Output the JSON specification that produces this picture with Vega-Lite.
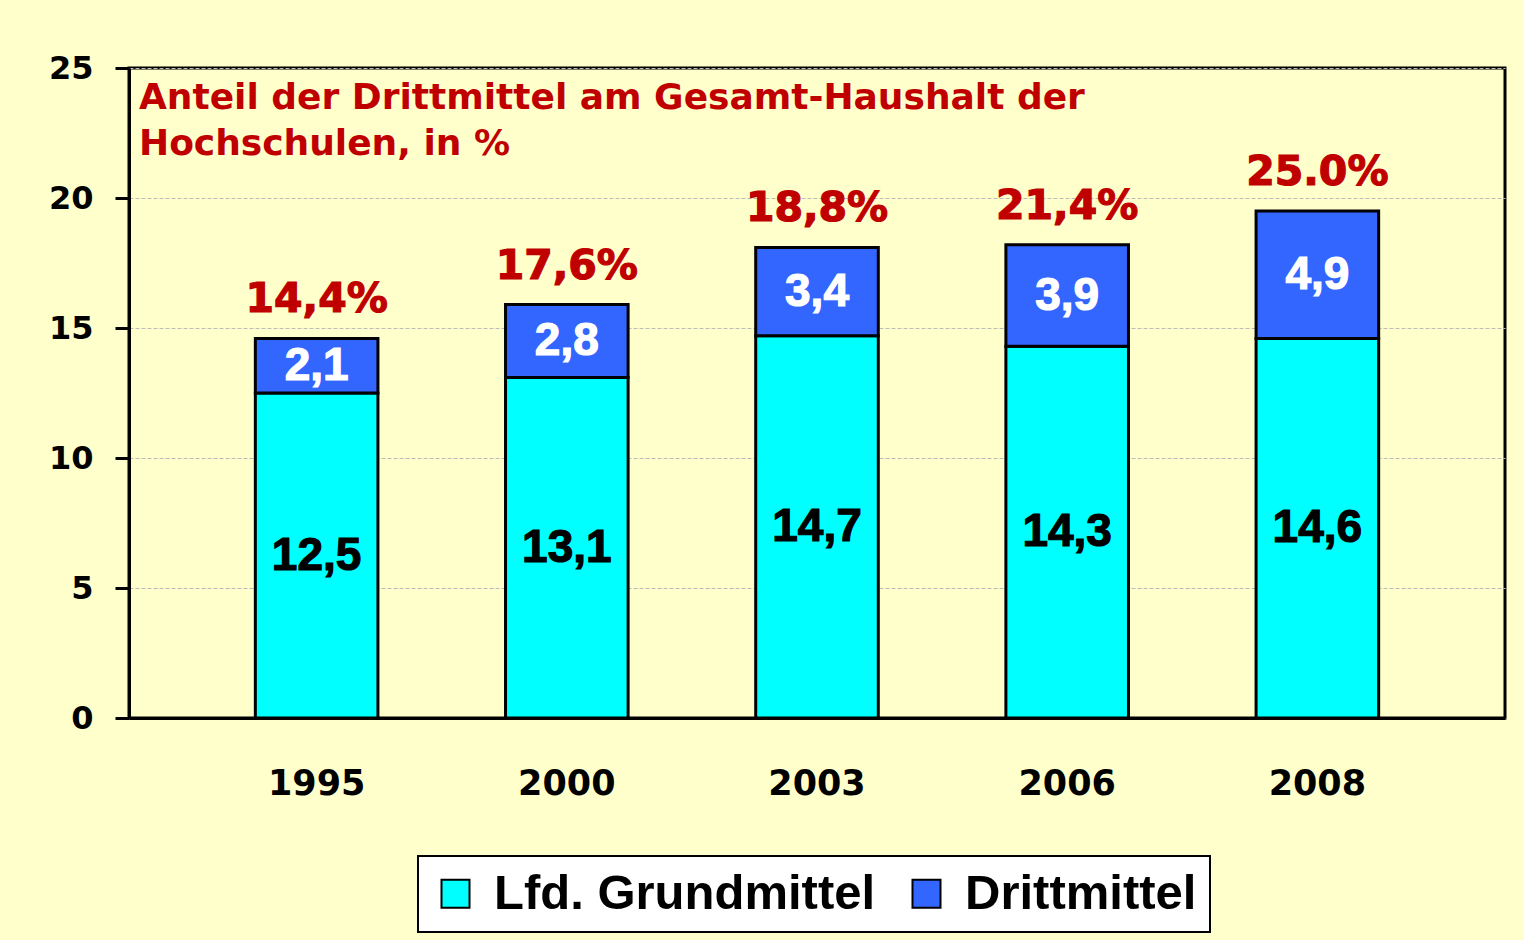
{
  "$schema": "https://vega.github.io/schema/vega-lite/v6.json",
  "width": 1376,
  "height": 650,
  "autosize": {"type": "none"},
  "padding": {"left": 129, "top": 68, "right": 19, "bottom": 222},
  "background": "#FFFFCC",
  "title": {
    "text": ["Anteil der Drittmittel am Gesamt-Haushalt der", "Hochschulen, in %"],
    "anchor": "start",
    "frame": "group",
    "orient": "top",
    "baseline": "top",
    "offset": -16,
    "dx": 10,
    "dy": 95,
    "color": "#C00000",
    "font": "DejaVu Sans",
    "fontSize": 36,
    "fontWeight": "bold",
    "lineHeight": 46
  },
  "data": {
    "values": [
      {"year": "1995", "series": "Lfd. Grundmittel", "value": 12.5, "label": "12,5", "pct": "14,4%"},
      {"year": "1995", "series": "Drittmittel", "value": 2.1, "label": "2,1", "pct": "14,4%"},
      {"year": "2000", "series": "Lfd. Grundmittel", "value": 13.1, "label": "13,1", "pct": "17,6%"},
      {"year": "2000", "series": "Drittmittel", "value": 2.8, "label": "2,8", "pct": "17,6%"},
      {"year": "2003", "series": "Lfd. Grundmittel", "value": 14.7, "label": "14,7", "pct": "18,8%"},
      {"year": "2003", "series": "Drittmittel", "value": 3.4, "label": "3,4", "pct": "18,8%"},
      {"year": "2006", "series": "Lfd. Grundmittel", "value": 14.3, "label": "14,3", "pct": "21,4%"},
      {"year": "2006", "series": "Drittmittel", "value": 3.9, "label": "3,9", "pct": "21,4%"},
      {"year": "2008", "series": "Lfd. Grundmittel", "value": 14.6, "label": "14,6", "pct": "25.0%"},
      {"year": "2008", "series": "Drittmittel", "value": 4.9, "label": "4,9", "pct": "25.0%"}
    ]
  },
  "encoding": {
    "x": {
      "field": "year",
      "type": "nominal",
      "scale": {"paddingInner": 0.51, "paddingOuter": 0.505},
      "axis": {
        "title": null,
        "labelAngle": 0,
        "ticks": false,
        "labelPadding": 48,
        "labelFont": "DejaVu Sans",
        "labelFontSize": 35,
        "labelFontWeight": "bold",
        "labelColor": "black",
        "domainColor": "black",
        "domainWidth": 3
      }
    }
  },
  "layer": [
    {
      "mark": {"type": "bar", "stroke": "black", "strokeWidth": 3},
      "encoding": {
        "y": {
          "field": "value",
          "type": "quantitative",
          "stack": "zero",
          "scale": {"domain": [0, 25], "nice": false},
          "axis": {
            "title": null,
            "values": [0, 5, 10, 15, 20, 25],
            "grid": true,
            "gridColor": "#BBBBBB",
            "gridDash": [4, 2],
            "gridWidth": 1,
            "tickSize": 14,
            "tickWidth": 3,
            "tickColor": "black",
            "labelPadding": 22,
            "labelFont": "DejaVu Sans",
            "labelFontSize": 32,
            "labelFontWeight": "bold",
            "labelColor": "black",
            "domainColor": "black",
            "domainWidth": 3
          }
        },
        "color": {
          "field": "series",
          "type": "nominal",
          "scale": {"domain": ["Lfd. Grundmittel", "Drittmittel"], "range": ["#00FFFF", "#3366FF"]},
          "legend": {
            "title": null,
            "orient": "none",
            "legendX": 289,
            "legendY": 788,
            "direction": "horizontal",
            "symbolType": "square",
            "symbolSize": 784,
            "symbolStrokeColor": "black",
            "symbolStrokeWidth": 2,
            "symbolOpacity": 1,
            "labelFont": "Liberation Sans",
            "labelFontSize": 49,
            "labelFontWeight": "bold",
            "labelColor": "black",
            "labelLimit": 600,
            "labelOffset": 14,
            "columnPadding": 26,
            "padding": 13,
            "fillColor": "white",
            "strokeColor": "black"
          }
        },
        "order": {"field": "series", "type": "ordinal", "sort": "descending"}
      }
    },
    {
      "transform": [
        {"stack": "value", "groupby": ["year"], "sort": [{"field": "series", "order": "descending"}], "as": ["v0", "v1"]},
        {"fold": ["v0", "v1"], "as": ["edge", "pos"]}
      ],
      "mark": {"type": "text", "font": "Liberation Sans", "fontSize": 46, "fontWeight": "bold", "baseline": "middle", "align": "center", "strokeWidth": 1.2},
      "encoding": {
        "y": {"aggregate": "mean", "field": "pos", "type": "quantitative"},
        "text": {"field": "label", "type": "nominal"},
        "detail": {"field": "series", "type": "nominal"},
        "fill": {"condition": {"test": "datum.series === 'Drittmittel'", "value": "white"}, "value": "black"},
        "stroke": {"condition": {"test": "datum.series === 'Drittmittel'", "value": "white"}, "value": "black"}
      }
    },
    {
      "mark": {"type": "text", "font": "DejaVu Sans", "fontSize": 41, "fontWeight": "bold", "baseline": "alphabetic", "align": "center", "dy": -26, "fill": "#C00000", "stroke": "#C00000", "strokeWidth": 1.2},
      "encoding": {
        "y": {"aggregate": "sum", "field": "value", "type": "quantitative"},
        "text": {"field": "pct", "type": "nominal"}
      }
    }
  ],
  "config": {
    "view": {"stroke": "black", "strokeWidth": 3, "fill": "#FFFFCC"},
    "legend": {"strokeWidth": 2}
  }
}
